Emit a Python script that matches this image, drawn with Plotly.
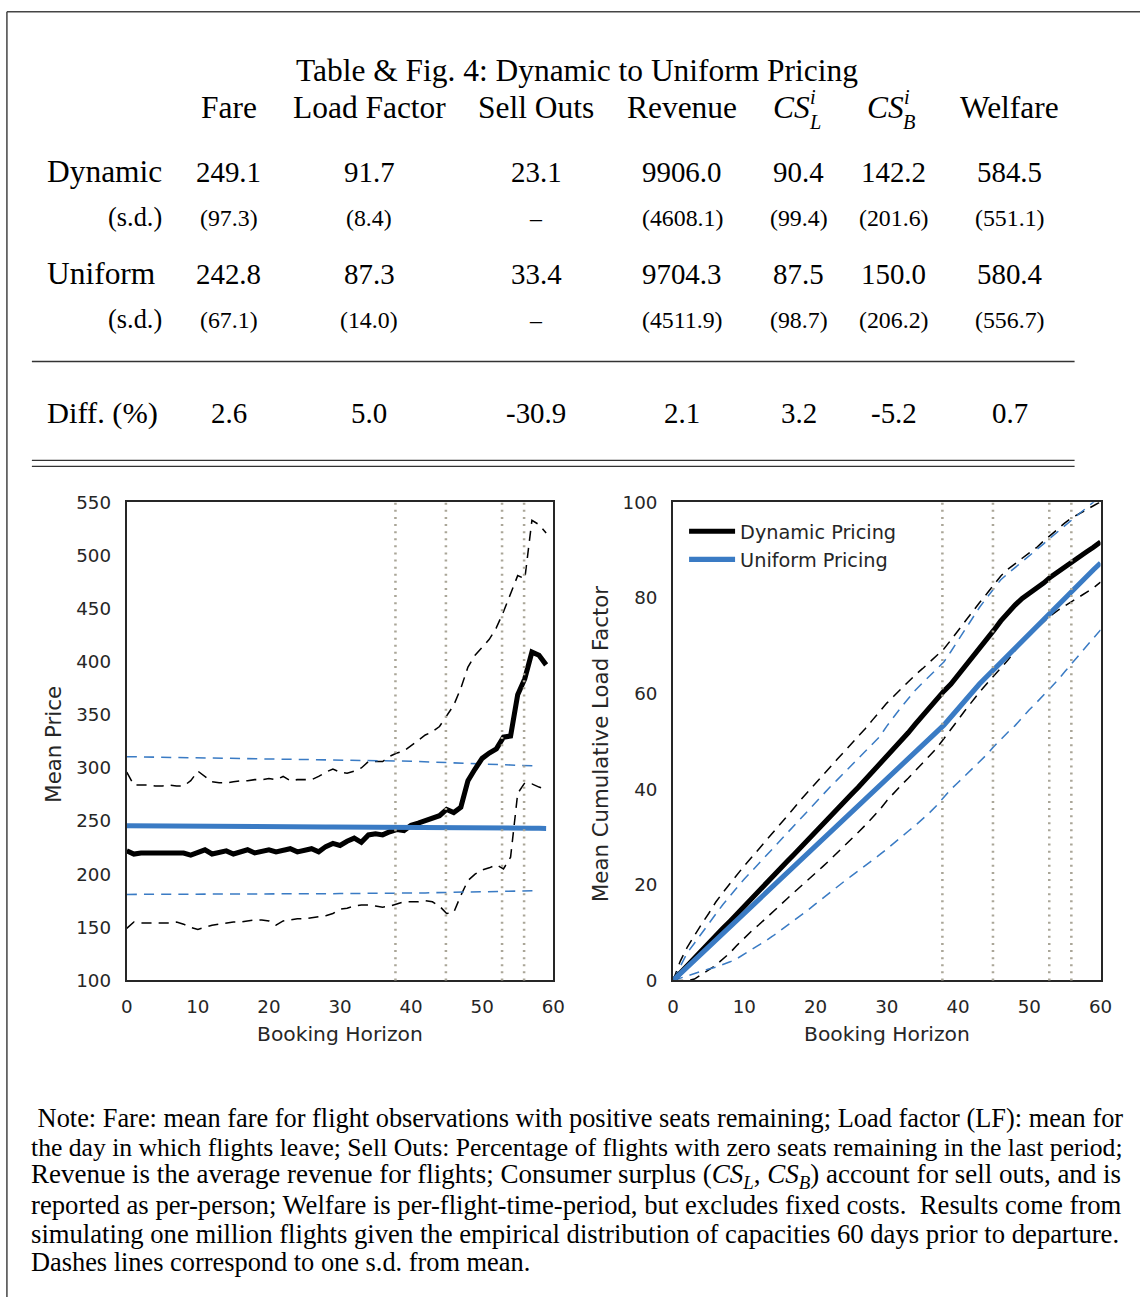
import plotly.graph_objects as go

# ---------------------------------------------------------------- table data
columns = ["Fare", "Load Factor", "Sell Outs", "Revenue", "CS_L", "CS_B", "Welfare"]
dynamic_vals = [249.1, 91.7, 23.1, 9906.0, 90.4, 142.2, 584.5]
dynamic_sd = [97.3, 8.4, None, 4608.1, 99.4, 201.6, 551.1]
uniform_vals = [242.8, 87.3, 33.4, 9704.3, 87.5, 150.0, 580.4]
uniform_sd = [67.1, 14.0, None, 4511.9, 98.7, 206.2, 556.7]
diff_pct = [2.6, 5.0, -30.9, 2.1, 3.2, -5.2, 0.7]

# ---------------------------------------------------------------- price panel
days_price = list(range(60))
dyn_price = [222, 219, 220, 220, 219, 220, 219, 220, 220, 218,
             221, 223, 219, 220, 222, 219, 221, 223, 220, 222,
             223, 221, 222, 224, 221, 223, 224, 221, 226, 229,
             227, 231, 234, 230, 237, 238, 237, 240, 242, 241,
             246, 248, 250, 253, 255, 261, 258, 263, 288, 299,
             309, 314, 318, 329, 330, 369, 384, 409, 406, 397]
dyn_price_hi = [296, 284, 284, 284, 283, 283, 284, 283, 283, 288,
                297, 292, 287, 286, 286, 287, 288, 288, 289, 289,
                290, 289, 292, 288, 289, 289, 289, 292, 296, 299,
                296, 295, 297, 300, 306, 306, 306, 311, 314, 316,
                321, 326, 331, 334, 339, 349, 359, 375, 395, 406,
                413, 421, 432, 447, 464, 481, 478, 533, 529, 521]
dyn_price_lo = [149, 155, 154, 154, 154, 154, 154, 155, 153, 150,
                148, 150, 152, 153, 154, 155, 155, 156, 157, 157,
                156, 152, 156, 157, 158, 158, 159, 160, 161, 163,
                167, 168, 170, 171, 171, 170, 169, 170, 172, 174,
                174, 174, 175, 174, 170, 163, 164, 180, 194, 200,
                204, 206, 209, 205, 216, 276, 286, 285, 282, 280]
unif_price = [245.6, 245.6, 245.5, 245.5, 245.4, 245.4, 245.4, 245.3, 245.3, 245.2,
              245.2, 245.2, 245.1, 245.1, 245.0, 245.0, 245.0, 244.9, 244.9, 244.8,
              244.8, 244.8, 244.7, 244.7, 244.6, 244.6, 244.6, 244.5, 244.5, 244.4,
              244.4, 244.4, 244.3, 244.3, 244.2, 244.2, 244.2, 244.1, 244.1, 244.0,
              244.0, 244.0, 243.9, 243.9, 243.8, 243.8, 243.8, 243.7, 243.7, 243.6,
              243.6, 243.6, 243.5, 243.5, 243.4, 243.4, 243.3, 243.3, 243.2, 243.1]
days_unif_sd = list(range(59))
unif_price_hi = [310.6, 310.5, 310.4, 310.3, 310.2, 310.1, 310.0, 309.9, 309.8, 309.7,
                 309.6, 309.5, 309.4, 309.3, 309.2, 309.1, 309.0, 308.9, 308.8, 308.7,
                 308.6, 308.5, 308.4, 308.3, 308.2, 308.1, 308.0, 307.9, 307.8, 307.7,
                 307.6, 307.5, 307.4, 307.3, 307.2, 307.1, 307.0, 306.9, 306.8, 306.5,
                 306.3, 306.0, 305.8, 305.5, 305.3, 305.0, 304.8, 304.5, 304.3, 304.0,
                 303.8, 303.5, 303.3, 303.0, 302.8, 302.5, 302.3, 302.0, 301.8]
unif_price_lo = [181.0, 181.0, 181.1, 181.1, 181.1, 181.1, 181.2, 181.2, 181.2, 181.2,
                 181.3, 181.3, 181.3, 181.3, 181.4, 181.4, 181.4, 181.4, 181.5, 181.5,
                 181.5, 181.5, 181.6, 181.6, 181.6, 181.6, 181.7, 181.7, 181.7, 181.7,
                 181.8, 181.8, 181.8, 181.8, 181.9, 181.9, 181.9, 181.9, 181.9, 182.0,
                 182.2, 182.3, 182.4, 182.6, 182.7, 182.8, 183.0, 183.1, 183.2, 183.4,
                 183.5, 183.6, 183.8, 183.9, 184.0, 184.2, 184.3, 184.4, 184.5]

# ---------------------------------------------------------------- load-factor panel
days_lf = list(range(61))
dyn_lf = [0.0, 1.6, 3.1, 4.7, 6.2, 7.8, 9.3, 10.9, 12.4, 14.0,
          15.6, 17.1, 18.7, 20.2, 21.8, 23.3, 24.9, 26.4, 28.0, 29.6,
          31.1, 32.7, 34.2, 35.8, 37.3, 38.9, 40.4, 42.0, 43.6, 45.1,
          46.7, 48.3, 50.0, 51.8, 53.6, 55.4, 57.2, 58.9, 60.5, 62.0,
          63.8, 65.6, 67.5, 69.4, 71.3, 73.2, 75.2, 77.0, 78.5, 79.9,
          80.9, 81.9, 83.1, 84.4, 85.5, 86.6, 87.7, 88.6, 89.6, 90.6,
          91.7]
dyn_lf_hi = [0.0, 4.0, 7.0, 9.5, 11.8, 14.0, 16.4, 18.4, 20.3, 22.2,
             24.0, 25.7, 27.4, 29.2, 31.0, 32.6, 34.4, 36.1, 37.9, 39.6,
             41.3, 43.0, 44.6, 46.2, 47.8, 49.4, 51.0, 52.7, 54.5, 56.3,
             58.0, 59.5, 61.0, 62.5, 63.9, 65.2, 66.5, 67.8, 69.3, 71.2,
             73.2, 75.2, 77.2, 79.0, 80.8, 82.8, 84.6, 86.0, 87.2, 88.3,
             89.4, 90.5, 91.9, 93.1, 94.4, 95.7, 96.8, 97.6, 98.4, 99.2,
             100.1]
dyn_lf_lo = [0.0, 0.0, 0.0, 0.3, 1.2, 2.2, 3.2, 4.5, 5.8, 7.4,
             8.9, 10.3, 11.6, 12.9, 14.2, 15.7, 17.1, 18.4, 19.8, 21.1,
             22.4, 23.8, 25.2, 26.6, 28.2, 29.6, 31.0, 32.5, 34.0, 35.7,
             37.6, 39.3, 40.8, 42.3, 43.8, 45.4, 47.0, 48.6, 50.5, 52.5,
             54.5, 56.5, 58.5, 60.3, 62.0, 63.6, 65.2, 67.0, 69.0, 70.8,
             72.4, 73.6, 75.0, 76.3, 77.4, 78.4, 79.3, 80.2, 81.1, 82.1,
             83.3]
unif_lf = [0.0, 1.4, 2.8, 4.2, 5.6, 7.0, 8.4, 9.8, 11.2, 12.6,
           14.0, 15.4, 16.8, 18.2, 19.6, 21.0, 22.4, 23.8, 25.2, 26.6,
           28.0, 29.4, 30.8, 32.2, 33.6, 35.0, 36.4, 37.8, 39.2, 40.6,
           42.0, 43.4, 44.8, 46.2, 47.6, 49.0, 50.4, 51.9, 53.4, 55.1,
           56.9, 58.7, 60.4, 62.0, 63.5, 65.0, 66.6, 68.2, 69.7, 71.2,
           72.7, 74.2, 75.7, 77.2, 78.7, 80.2, 81.7, 83.1, 84.5, 85.9,
           87.3]
unif_lf_hi = [0.0, 3.0, 5.8, 7.8, 9.9, 11.9, 13.9, 15.9, 17.8, 19.5,
              21.2, 22.8, 24.5, 26.2, 27.8, 29.4, 31.0, 32.6, 34.2, 35.8,
              37.3, 38.9, 40.4, 41.9, 43.4, 44.8, 46.3, 47.8, 49.3, 51.0,
              53.2, 55.2, 57.1, 58.9, 60.7, 62.2, 63.6, 65.0, 66.6, 68.8,
              71.0, 73.4, 75.7, 78.0, 80.0, 82.0, 83.8, 85.1, 86.3, 87.5,
              88.7, 89.9, 91.3, 92.6, 93.9, 95.2, 96.4, 97.6, 98.8, 100.0,
              101.3]
unif_lf_lo = [0.0, 0.5, 1.0, 1.5, 2.0, 2.4, 2.8, 3.3, 3.9, 4.6,
              5.5, 6.4, 7.3, 8.3, 9.3, 10.4, 11.4, 12.5, 13.7, 14.8,
              16.0, 17.2, 18.3, 19.5, 20.7, 21.8, 22.9, 24.0, 25.1, 26.3,
              27.5, 28.8, 30.0, 31.2, 32.4, 33.7, 35.1, 36.6, 38.3, 40.0,
              41.4, 42.8, 44.2, 45.6, 47.2, 48.9, 50.5, 51.9, 53.3, 55.0,
              56.6, 58.1, 59.6, 61.1, 62.8, 64.6, 66.4, 68.1, 69.9, 71.6,
              73.3]

# booking-horizon days marked with dotted verticals
marker_days = [37.8, 44.9, 52.8, 55.9]

note_lines = [
    " Note: Fare: mean fare for flight observations with positive seats remaining; Load factor (LF): mean for",
    "the day in which flights leave; Sell Outs: Percentage of flights with zero seats remaining in the last period;",
    "Revenue is the average revenue for flights; Consumer surplus (<i>CS</i><sub><i>L</i></sub>, <i>CS</i><sub><i>B</i></sub>) account for sell outs, and is",
    "reported as per-person; Welfare is per-flight-time-period, but excludes fixed costs.  Results come from",
    "simulating one million flights given the empirical distribution of capacities 60 days prior to departure.",
    "Dashes lines correspond to one s.d. from mean.",
]
# per-line sizes keep the paragraph edge close to a justified block
note_sizes = [26.0, 25.3, 26.6, 26.3, 26.3, 26.0]

# ---------------------------------------------------------------- layout frame
# Layout positions below are given in final view pixels; VIEW_SCALE and the
# offsets convert them to canvas pixels (the body keeps its 8px margin).
VIEW_SCALE = 0.9856
OFF_X, OFF_Y = -2.8, 3.0
MARGIN = 8
K = 1 / VIEW_SCALE
W, H = 1152, 1307

BLACK = "#000000"
BLUE = "#3a7bc4"
DOTS = "#aaa698"
INK = "#262626"
SERIF = "Liberation Serif, DejaVu Serif, serif"
SANS = "DejaVu Sans, sans-serif"
DASH = "%.1fpx,%.1fpx" % (10 * K, 7 * K)


def px(x):
    return ((x - OFF_X) / VIEW_SCALE - MARGIN) / W


def py(y):
    return 1 - ((y - OFF_Y) / VIEW_SCALE - MARGIN) / H


def sz(v):
    return v * K


fig = go.Figure()

# price panel
thin = dict(width=sz(1.5), dash=DASH)
fig.add_trace(go.Scatter(x=days_price, y=dyn_price_hi, mode="lines", xaxis="x", yaxis="y",
                         line=dict(color=BLACK, **thin), showlegend=False))
fig.add_trace(go.Scatter(x=days_price, y=dyn_price_lo, mode="lines", xaxis="x", yaxis="y",
                         line=dict(color=BLACK, **thin), showlegend=False))
fig.add_trace(go.Scatter(x=days_unif_sd, y=unif_price_hi, mode="lines", xaxis="x", yaxis="y",
                         line=dict(color=BLUE, **thin), showlegend=False))
fig.add_trace(go.Scatter(x=days_unif_sd, y=unif_price_lo, mode="lines", xaxis="x", yaxis="y",
                         line=dict(color=BLUE, **thin), showlegend=False))
fig.add_trace(go.Scatter(x=days_price, y=dyn_price, mode="lines", xaxis="x", yaxis="y",
                         line=dict(color=BLACK, width=sz(5)), showlegend=False))
fig.add_trace(go.Scatter(x=days_price, y=unif_price, mode="lines", xaxis="x", yaxis="y",
                         line=dict(color=BLUE, width=sz(5)), showlegend=False))

# load-factor panel
fig.add_trace(go.Scatter(x=days_lf, y=dyn_lf_hi, mode="lines", xaxis="x2", yaxis="y2",
                         line=dict(color=BLACK, **thin), showlegend=False))
fig.add_trace(go.Scatter(x=days_lf, y=dyn_lf_lo, mode="lines", xaxis="x2", yaxis="y2",
                         line=dict(color=BLACK, **thin), showlegend=False))
fig.add_trace(go.Scatter(x=days_lf, y=unif_lf_hi, mode="lines", xaxis="x2", yaxis="y2",
                         line=dict(color=BLUE, **thin), showlegend=False))
fig.add_trace(go.Scatter(x=days_lf, y=unif_lf_lo, mode="lines", xaxis="x2", yaxis="y2",
                         line=dict(color=BLUE, **thin), showlegend=False))
fig.add_trace(go.Scatter(x=days_lf, y=dyn_lf, mode="lines", xaxis="x2", yaxis="y2",
                         name="Dynamic Pricing", line=dict(color=BLACK, width=sz(5))))
fig.add_trace(go.Scatter(x=days_lf, y=unif_lf, mode="lines", xaxis="x2", yaxis="y2",
                         name="Uniform Pricing", line=dict(color=BLUE, width=sz(5))))

for d in marker_days:
    for xr, yr in (("x", "y domain"), ("x2", "y2 domain")):
        fig.add_shape(type="line", xref=xr, yref=yr, x0=d, x1=d, y0=0, y1=1,
                      line=dict(color=DOTS, width=sz(2.5), dash="%.1fpx,%.1fpx" % (2 * K, 5 * K)),
                      layer="above")


def axis_style(ticklen):
    return dict(showgrid=False, zeroline=False, showline=True, mirror=True,
                linecolor=INK, linewidth=sz(2), ticks="outside", ticklen=ticklen,
                tickcolor="rgba(0,0,0,0)", tickfont=dict(family=SANS, size=sz(18), color=INK))


y_top, y_bot = 503, 982
fig.update_layout(
    width=W, height=H, margin=dict(l=0, r=0, t=0, b=0),
    paper_bgcolor="white", plot_bgcolor="white",
    xaxis=dict(domain=[px(126), px(553)], range=[0, 60], anchor="y",
               tickvals=[0, 10, 20, 30, 40, 50, 60], **axis_style(9)),
    yaxis=dict(domain=[py(y_bot), py(y_top)], range=[100, 550], anchor="x",
               tickvals=list(range(100, 551, 50)), **axis_style(10)),
    xaxis2=dict(domain=[px(673), px(1101)], range=[0, 60], anchor="y2",
                tickvals=[0, 10, 20, 30, 40, 50, 60], **axis_style(9)),
    yaxis2=dict(domain=[py(y_bot), py(y_top)], range=[0, 100], anchor="x2",
                tickvals=[0, 20, 40, 60, 80, 100], **axis_style(10)),
    legend=dict(x=px(684), y=py(513), xanchor="left", yanchor="top",
                bgcolor="rgba(0,0,0,0)", font=dict(family=SANS, size=sz(19), color=INK),
                itemwidth=46, tracegroupgap=0),
    showlegend=True,
)

ann = []


def text(x, y, s, size=30, anchor="center", family=SERIF, color="#000000", angle=0):
    ann.append(dict(x=px(x), y=py(y), xref="paper", yref="paper", text=s, showarrow=False,
                    xanchor=anchor, yanchor="middle", textangle=angle,
                    font=dict(family=family, size=sz(size), color=color)))


# axis titles
text(53, 745, "Mean Price", size=21, family=SANS, color=INK, angle=-90)
text(339, 1036, "Booking Horizon", size=20, family=SANS, color=INK)
text(601, 745, "Mean Cumulative Load Factor", size=21, family=SANS, color=INK, angle=-90)
text(887, 1036, "Booking Horizon", size=20, family=SANS, color=INK)

# table
col_x = [228, 369, 536, 682, 799, 894, 1010]
text(577, 70, "Table &amp; Fig. 4: Dynamic to Uniform Pricing", size=31)
for name, cx in zip(columns, col_x):
    if name.startswith("CS_"):
        cs_x = cx - 7 if name == "CS_L" else cx - 8
        text(cs_x, 108, "<i>CS</i>", size=31)
        text(cs_x + 21, 97, "<i>i</i>", size=20)
        text(cs_x + 23, 122, "<i>%s</i>" % name[-1], size=20)
    else:
        text(cx, 108, name, size=31)


def fmt_sd(v):
    return "–" if v is None else "(%.1f)" % v


text(44, 172, "Dynamic", size=31, anchor="left")
text(163, 218, "(s.d.)", size=26, anchor="right")
text(44, 274, "Uniform", size=31, anchor="left")
text(163, 320, "(s.d.)", size=26, anchor="right")
text(44, 414, "Diff. (%)", size=30, anchor="left")
for i, cx in enumerate(col_x):
    text(cx, 172, "%.1f" % dynamic_vals[i], size=28.5)
    text(cx, 218, fmt_sd(dynamic_sd[i]), size=23.5)
    text(cx, 274, "%.1f" % uniform_vals[i], size=28.5)
    text(cx, 320, fmt_sd(uniform_sd[i]), size=23.5)
    text(cx, 414, "%.1f" % diff_pct[i], size=28.5)

# note
for k, (line, s) in enumerate(zip(note_lines, note_sizes)):
    text(28, 1120 + 29 * k, line, size=s, anchor="left")

fig.update_layout(annotations=ann)

# rules and outer frame (top edge of the frame sits on the canvas edge)
rule_style = dict(color="#333333", width=sz(1.3))
frame_style = dict(color="#444444", width=1.5)
for yy in (362, 461, 467):
    fig.add_shape(type="line", xref="paper", yref="paper", x0=px(31), x1=px(1075),
                  y0=py(yy), y1=py(yy), line=rule_style)
fig.add_shape(type="line", xref="paper", yref="paper", x0=px(6), x1=1, y0=0.9995, y1=0.9995,
              line=frame_style)
fig.add_shape(type="line", xref="paper", yref="paper", x0=px(6), x1=px(6), y0=0.9995, y1=0,
              line=frame_style)

fig.write_html("out.html")
